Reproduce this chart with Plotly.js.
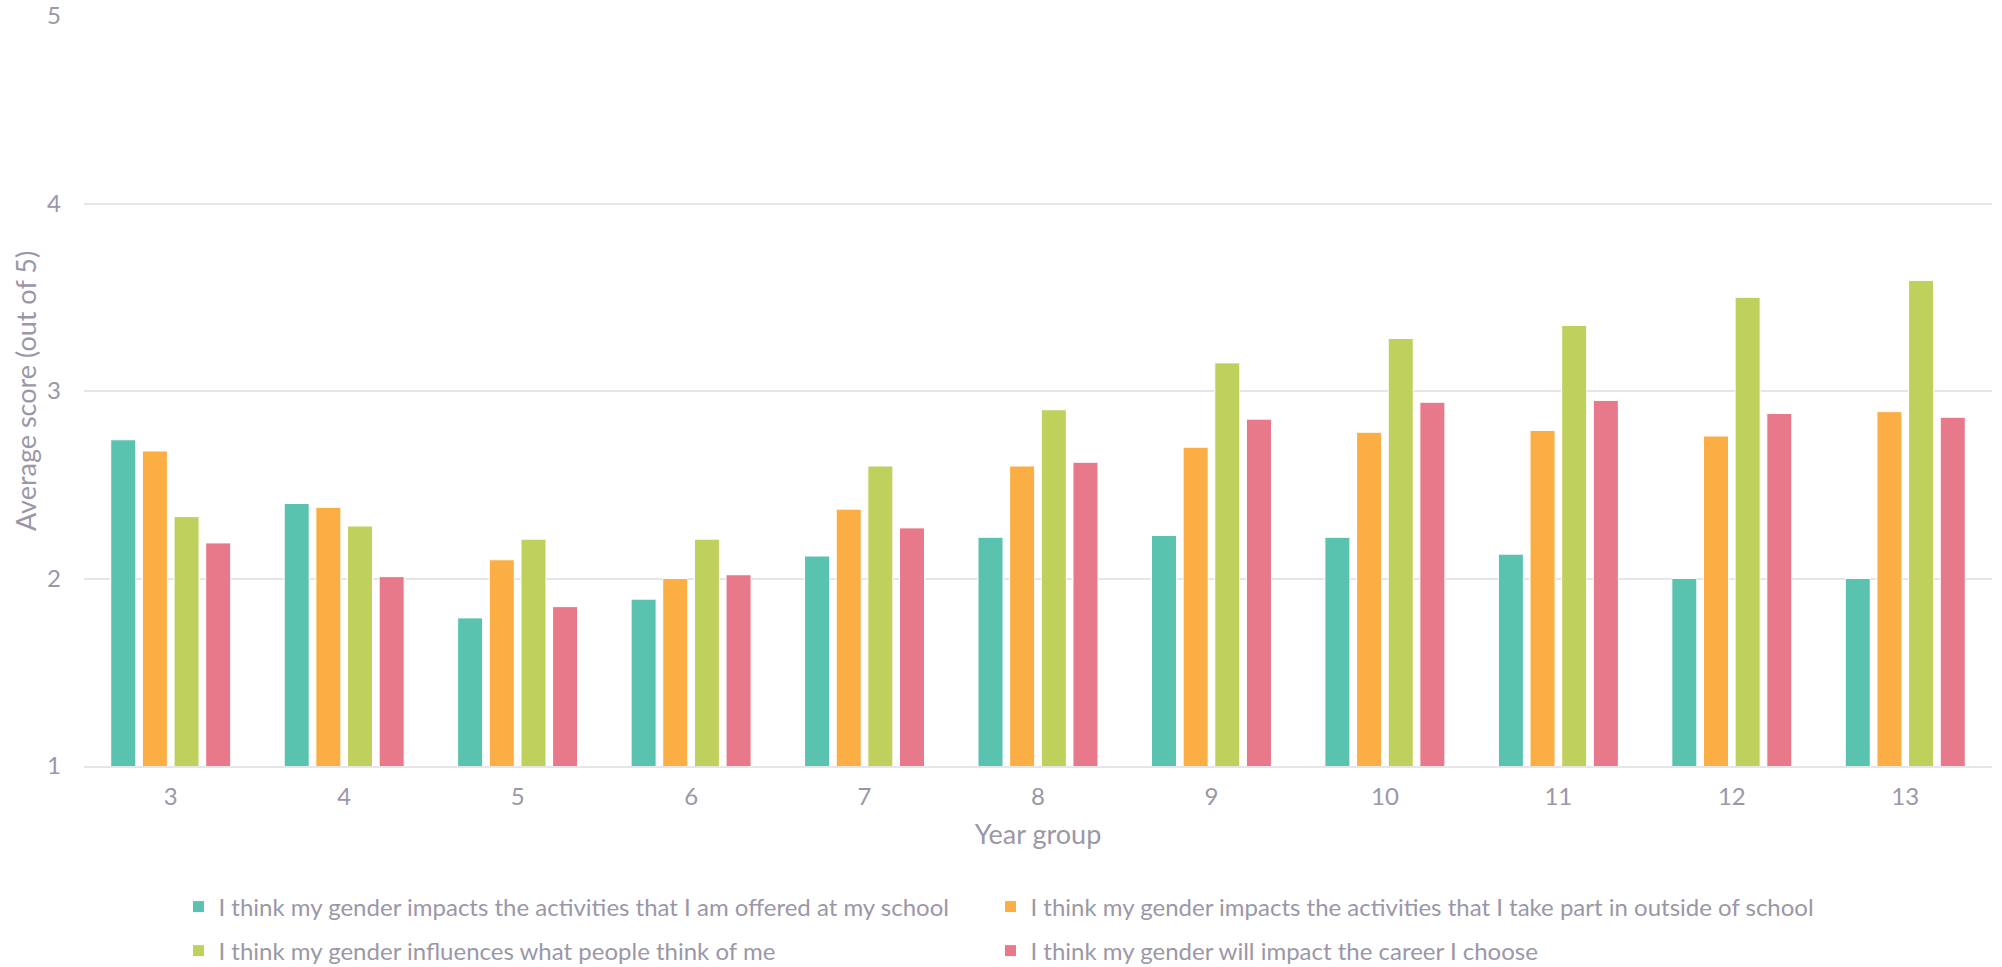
<!DOCTYPE html>
<html>
<head>
<meta charset="utf-8">
<script src="https://cdn.plot.ly/plotly-3.0.1.min.js"></script>
<style>
  html, body { margin: 0; padding: 0; background: #ffffff; }
  #chart { width: 2002px; height: 967px; }
</style>
</head>
<body>
<div id="chart"></div>
<script>
// Year groups on the x axis
const yearGroups = ['3', '4', '5', '6', '7', '8', '9', '10', '11', '12', '13'];

// Survey statements (legend labels)
const statementSchool = 'I think my gender impacts the activities that I am offered at my school';
const statementOutside = 'I think my gender impacts the activities that I take part in outside of school';
const statementPeople = 'I think my gender influences what people think of me';
const statementCareer = 'I think my gender will impact the career I choose';

// Average score (out of 5) per year group for each statement
const scoresSchool  = [2.74, 2.40, 1.79, 1.89, 2.12, 2.22, 2.23, 2.22, 2.13, 2.00, 2.00];
const scoresOutside = [2.68, 2.38, 2.10, 2.00, 2.37, 2.60, 2.70, 2.78, 2.79, 2.76, 2.89];
const scoresPeople  = [2.33, 2.28, 2.21, 2.21, 2.60, 2.90, 3.15, 3.28, 3.35, 3.50, 3.59];
const scoresCareer  = [2.19, 2.01, 1.85, 2.02, 2.27, 2.62, 2.85, 2.94, 2.95, 2.88, 2.86];

const colours = ['#5AC3B0', '#FAAE43', '#BFD15C', '#E8798B'];
const textColour = '#9b97a7';
const gridColour = '#e6e6e9';

// Each statement gets its own legend box, laid out as a 2 x 2 grid under the axis
const series = [
  { name: statementSchool,  y: scoresSchool,  legend: 'legend' },
  { name: statementOutside, y: scoresOutside, legend: 'legend2' },
  { name: statementPeople,  y: scoresPeople,  legend: 'legend3' },
  { name: statementCareer,  y: scoresCareer,  legend: 'legend4' }
];

const traces = series.map((s, i) => ({
  type: 'bar',
  name: s.name,
  x: yearGroups,
  y: s.y,
  legend: s.legend,
  marker: { color: colours[i], line: { color: '#ffffff', width: 1 } },
  hovertemplate: '%{x}: %{y:.2f}<extra></extra>'
}));

const legendCell = (xPos, yPos) => ({
  orientation: 'h',
  x: xPos,
  xanchor: 'left',
  y: yPos,
  yanchor: 'middle',
  font: { size: 24, color: textColour },
  bgcolor: 'rgba(0,0,0,0)'
});

const col1 = 0.0495, col2 = 0.4751;
const row1 = -0.188, row2 = -0.2467;

const layout = {
  width: 2002,
  height: 967,
  paper_bgcolor: '#ffffff',
  plot_bgcolor: '#ffffff',
  font: { family: 'Lato, sans-serif', color: textColour, size: 24 },
  margin: { l: 84, r: 10, t: 16, b: 201, autoexpand: false },
  barmode: 'group',
  bargap: 0.27,
  bargroupgap: 0.21,
  xaxis: {
    type: 'category',
    showgrid: false,
    showline: true,
    linecolor: gridColour,
    linewidth: 2,
    ticks: '',
    ticklabelstandoff: 8,
    tickfont: { size: 24, color: textColour },
    title: { text: 'Year group', font: { size: 27, color: textColour }, standoff: 16 }
  },
  yaxis: {
    range: [1, 5],
    dtick: 1,
    showgrid: true,
    gridcolor: gridColour,
    gridwidth: 2,
    zeroline: false,
    showline: false,
    ticks: '',
    ticklabelstandoff: 22,
    tickfont: { size: 24, color: textColour },
    title: { text: 'Average score (out of 5)', font: { size: 27, color: textColour }, standoff: 2 }
  },
  showlegend: true,
  legend: legendCell(col1, row1),
  legend2: legendCell(col2, row1),
  legend3: legendCell(col1, row2),
  legend4: legendCell(col2, row2),
  hovermode: 'closest'
};

Plotly.newPlot('chart', traces, layout, { displayModeBar: false });
</script>
</body>
</html>
